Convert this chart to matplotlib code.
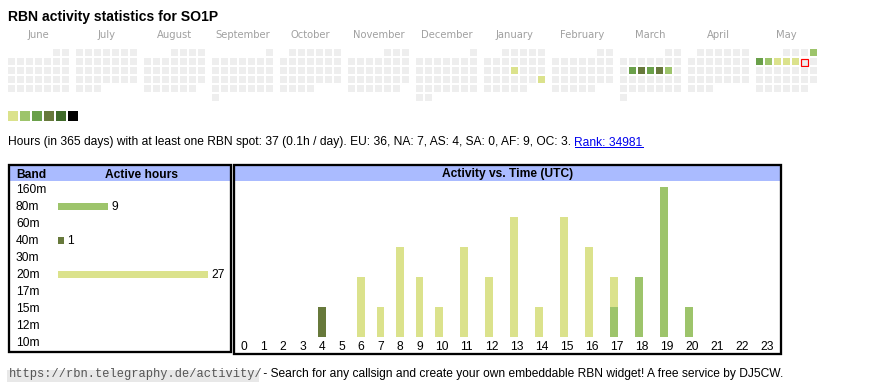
import datetime as dt
import calendar
import matplotlib
matplotlib.use("Agg")
import matplotlib.pyplot as plt
from matplotlib.patches import Rectangle
from matplotlib.transforms import blended_transform_factory, offset_copy

plt.rcParams['font.family'] = ['Liberation Sans', 'DejaVu Sans']

# ---------------- data ----------------
title = "RBN activity statistics for SO1P"
months = ["June", "July", "August", "September", "October", "November",
          "December", "January", "February", "March", "April", "May"]
start_year, start_month = 2024, 6
today = "2025-05-10"
active_days = ["2025-01-16", "2025-01-26", "2025-03-11", "2025-03-12", "2025-03-13",
               "2025-03-14", "2025-03-15", "2025-05-04", "2025-05-05", "2025-05-06",
               "2025-05-07", "2025-05-08", "2025-05-09"]
active_levels = [1, 1, 3, 4, 3, 4, 2, 2, 3, 2, 1, 1, 1]
level_colors = ["#dbe28c", "#9dc46b", "#6aa04a", "#67793b", "#3f6a29", "#000000"]
empty_color = "#eeeeee"

summary = ("Hours (in 365 days) with at least one RBN spot: 37 (0.1h / day). "
           "EU: 36, NA: 7, AS: 4, SA: 0, AF: 9, OC: 3. ")
rank_text = "Rank: 34981"

bands = ["160m", "80m", "60m", "40m", "30m", "20m", "17m", "15m", "12m", "10m"]
band_hours = [0, 9, 0, 1, 0, 27, 0, 0, 0, 0]
band_colors = {"80m": "#9dc46b", "40m": "#67793b", "20m": "#dbe28c"}

hours = list(range(24))
hours_80m = [0, 0, 0, 0, 0, 0, 0, 0, 0, 0, 0, 0, 0, 0, 0, 0, 0, 1, 2, 5, 1, 0, 0, 0]
hours_40m = [0, 0, 0, 0, 1, 0, 0, 0, 0, 0, 0, 0, 0, 0, 0, 0, 0, 0, 0, 0, 0, 0, 0, 0]
hours_20m = [0, 0, 0, 0, 0, 0, 2, 1, 3, 2, 1, 3, 2, 4, 1, 4, 3, 1, 0, 0, 0, 0, 0, 0]

footer_url = "https://rbn.telegraphy.de/activity/"
footer_text = " - Search for any callsign and create your own embeddable RBN widget! A free service by DJ5CW."

# ---------------- layout ----------------
W, H, DPI = 870, 390, 100
PX = 72 / DPI  # points per pixel

fig = plt.figure(figsize=(W / DPI, H / DPI), dpi=DPI)
fig.patch.set_facecolor('white')
bg = fig.add_axes([0, 0, 1, 1])
bg.set_xlim(0, W)
bg.set_ylim(H, 0)
bg.axis('off')


def px_axes(x0, y0, x1, y1):
    ax = fig.add_axes([x0 / W, 1 - y1 / H, (x1 - x0) / W, (y1 - y0) / H])
    ax.set_axis_off()
    return ax


# title
bg.text(8, 21, title, fontsize=14 * PX, fontweight='bold', va='baseline', ha='left')

# calendar heat map
level_by_day = {dt.date.fromisoformat(d): l for d, l in zip(active_days, active_levels)}
today_d = dt.date.fromisoformat(today)
cal_x0, cal_y0, cell, pitch, month_pitch = 8, 49, 7, 9, 68
for m, name in enumerate(months):
    year = start_year + (start_month - 1 + m) // 12
    month = (start_month - 1 + m) % 12 + 1
    mx = cal_x0 + month_pitch * m
    bg.text(mx + (7 * pitch - 2) / 2, 38.5, name, fontsize=10 * PX, color='#a0a0a0',
            ha='center', va='baseline', family='DejaVu Sans')
    first_wd = dt.date(year, month, 1).weekday()
    ndays = calendar.monthrange(year, month)[1]
    for d in range(1, ndays + 1):
        day = dt.date(year, month, d)
        k = d - 1 + first_wd
        x = mx + pitch * (k % 7)
        y = cal_y0 + pitch * (k // 7)
        lvl = level_by_day.get(day, 0)
        fc = level_colors[lvl - 1] if lvl else empty_color
        if day == today_d:
            bg.add_patch(Rectangle((x + 0.5, y + 0.5), cell, cell, facecolor=empty_color,
                                   edgecolor='#ff0000', lw=1.2 * PX))
        else:
            bg.add_patch(Rectangle((x, y), cell, cell, facecolor=fc, edgecolor='none'))

# legend squares
for i, c in enumerate(level_colors):
    bg.add_patch(Rectangle((8 + 12 * i, 111), 10, 10, facecolor=c, edgecolor='none'))

# summary line with rank link
t = bg.text(8, 145.5, summary, fontsize=12 * PX, va='baseline', ha='left')
fig.canvas.draw()
r = fig.canvas.get_renderer()
ext = t.get_window_extent(renderer=r)
inv = bg.transData.inverted()
x_end = inv.transform((ext.x1, ext.y0))[0]
rt = bg.text(x_end, 145.5, rank_text, fontsize=12 * PX, va='baseline', ha='left', color='#0000ee')
ext2 = rt.get_window_extent(renderer=r)
x2_end = inv.transform((ext2.x1, ext2.y0))[0]
bg.plot([x_end, x2_end], [147.3, 147.3], color='#0000ee', lw=1 * PX)

# boxes
hdr_col = '#aabbff'
lw_box = 2.3 * PX
# left box
bg.add_patch(Rectangle((10.3, 165.7), 219.7, 15, facecolor=hdr_col, edgecolor='none'))
bg.add_patch(Rectangle((9.2, 164.5), 222.0, 187.0, facecolor='none', edgecolor='black', lw=lw_box))
# right box
bg.add_patch(Rectangle((235.3, 165.7), 544.7, 15, facecolor=hdr_col, edgecolor='none'))
bg.add_patch(Rectangle((234.2, 164.5), 547.0, 189.7, facecolor='none', edgecolor='black', lw=lw_box))

bg.text(16, 177.5, "Band", fontsize=12 * PX, fontweight='bold', va='baseline', ha='left')
bg.text(141.7, 177.5, "Active hours", fontsize=12 * PX, fontweight='bold', va='baseline', ha='center')
bg.text(507.7, 177.5, "Activity vs. Time (UTC)", fontsize=12 * PX, fontweight='bold',
        va='baseline', ha='center')

# band bars
bx0, by0, bx1, by1 = 58, 181, 230, 350
row0, row_pitch = 189.7, 17
axb = px_axes(bx0, by0, bx1, by1)
px_per_hour = 150 / max(band_hours)
axb.set_xlim(0, (bx1 - bx0) / px_per_hour)
axb.set_ylim((by1 - row0) / row_pitch, (by0 - row0) / row_pitch)
ypos = list(range(len(bands)))
axb.barh(ypos, band_hours, height=7 / row_pitch,
         color=[band_colors.get(b, '#ffffff') for b in bands])
lab_tr = offset_copy(blended_transform_factory(bg.transData, axb.transData),
                     fig=fig, x=0, y=-3.4, units='dots')
val_tr = offset_copy(axb.transData, fig=fig, x=3.5, y=-3.4, units='dots')
for i, (b, v) in enumerate(zip(bands, band_hours)):
    axb.text(16, i, b, transform=lab_tr, fontsize=12 * PX, va='baseline', ha='left', clip_on=False)
    if v > 0:
        axb.text(v, i, str(v), transform=val_tr, fontsize=12 * PX, va='baseline', ha='left',
                 clip_on=False)

# activity vs time
col_w = [14 + 5.5 * len(str(h)) for h in hours]
lefts = []
acc = 0
for w in col_w:
    lefts.append(acc)
    acc += w
total_w = acc
act_x0, base_y, max_px = 234.25, 336.7, 150
totals = [a + b + c for a, b, c in zip(hours_80m, hours_40m, hours_20m)]
axa = px_axes(act_x0, base_y - max_px, act_x0 + total_w, base_y)
axa.set_xlim(0, total_w)
axa.set_ylim(0, max(totals))
bottom = [0] * len(hours)
for vals, band in [(hours_80m, '80m'), (hours_40m, '40m'), (hours_20m, '20m')]:
    axa.bar([l + 6 for l in lefts], vals, width=7.5, bottom=bottom, align='edge',
            color=band_colors[band], edgecolor='none')
    bottom = [bb + v for bb, v in zip(bottom, vals)]
hr_tr = blended_transform_factory(axa.transData, bg.transData)
for h, l, w in zip(hours, lefts, col_w):
    axa.text(l + w / 2, 350, str(h), transform=hr_tr, fontsize=12 * PX, ha='center',
             va='baseline', clip_on=False)

# footer
bg.add_patch(Rectangle((7.5, 369.5), 252, 12, facecolor='#e8e8e8', edgecolor='none'))
bg.text(9, 377.5, footer_url, fontsize=12 * PX, family='Liberation Mono', color='#555555',
        va='baseline', ha='left')
bg.text(260, 377.5, footer_text, fontsize=12 * PX, va='baseline', ha='left', color='#000000')

fig.savefig('out.png', dpi=DPI, facecolor='white')
